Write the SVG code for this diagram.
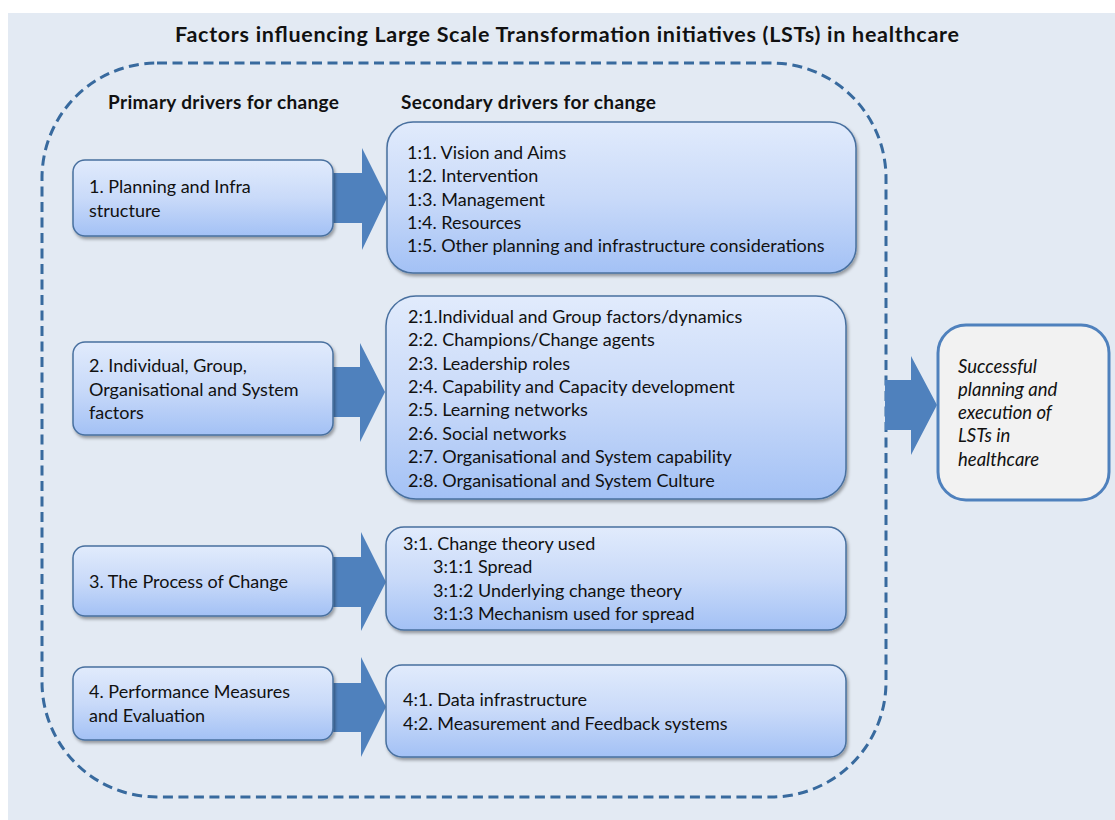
<svg xmlns="http://www.w3.org/2000/svg" width="1115" height="820" viewBox="0 0 1115 820">
  <defs>
    <linearGradient id="boxFill" x1="0" y1="0" x2="0" y2="1">
      <stop offset="0" stop-color="#E1EBFC"/>
      <stop offset="0.5" stop-color="#C9DAF9"/>
      <stop offset="1" stop-color="#A3C1F5"/>
    </linearGradient>
    <filter id="shadow" x="-10%" y="-10%" width="120%" height="130%">
      <feDropShadow dx="1.5" dy="2.5" stdDeviation="1.8" flood-color="#000" flood-opacity="0.35"/>
    </filter>
    <style>
      .panel { fill: #E3EAF3; }
      .frame { fill: none; stroke: #386A9E; stroke-width: 3; stroke-dasharray: 10 5.5; }
      .box { fill: url(#boxFill); stroke: #48709F; stroke-width: 1.5; filter: url(#shadow); }
      .goal { fill: #F2F2F2; stroke: #4F81BD; stroke-width: 3; }
      .arrow { fill: #4F81BD; }
      text { font-family: Lato, "Open Sans", "Liberation Sans", sans-serif; fill: #111; }
      .title { font-size: 21.5px; font-weight: bold; }
      .head { font-size: 19px; font-weight: bold; }
      .t { font-size: 18px; }
      .it { font-size: 18.5px; font-style: italic; }
    </style>
  </defs>

  <!-- background panel -->
  <rect class="panel" x="8" y="13" width="1107" height="807"/>

  <!-- title and column headings -->
  <text class="title" x="175" y="42" textLength="784" lengthAdjust="spacing">Factors influencing Large Scale Transformation initiatives (LSTs) in healthcare</text>
  <text class="head" x="108" y="109" textLength="231" lengthAdjust="spacing">Primary drivers for change</text>
  <text class="head" x="401" y="109" textLength="255" lengthAdjust="spacing">Secondary drivers for change</text>

  <!-- dashed boundary around the drivers -->
  <rect class="frame" x="42" y="63" width="844" height="734" rx="115" ry="115"/>

  <!-- block arrows linking drivers -->
  <g id="connectors">
    <polygon class="arrow" points="333,173 362,173 362,148 387,198 362,250 362,223 333,223"/>
    <polygon class="arrow" points="333,367 360,367 360,343 385,392 360,442 360,417 333,417"/>
    <polygon class="arrow" points="333,557 361,557 361,532 386,582 361,631 361,607 333,607"/>
    <polygon class="arrow" points="333,683 361,683 361,657 386,707 361,757 361,732 333,732"/>
    <polygon class="arrow" points="885,380 911,380 911,356 937,405 911,455 911,430 885,430"/>
  </g>

  <!-- primary drivers -->
  <g id="primary-1">
    <rect class="box" x="73" y="160" width="260" height="76" rx="12"/>
    <text class="t" x="89" y="193">1. Planning and Infra</text>
    <text class="t" x="89" y="217">structure</text>
  </g>
  <g id="primary-2">
    <rect class="box" x="73" y="342" width="260" height="93" rx="12"/>
    <text class="t" x="89" y="372">2. Individual, Group,</text>
    <text class="t" x="89" y="396">Organisational and System</text>
    <text class="t" x="89" y="419">factors</text>
  </g>
  <g id="primary-3">
    <rect class="box" x="73" y="546" width="260" height="70" rx="12"/>
    <text class="t" x="89" y="588">3. The Process of Change</text>
  </g>
  <g id="primary-4">
    <rect class="box" x="73" y="667" width="260" height="73" rx="12"/>
    <text class="t" x="89" y="698">4. Performance Measures</text>
    <text class="t" x="89" y="722">and Evaluation</text>
  </g>

  <!-- secondary drivers -->
  <g id="secondary-1">
    <rect class="box" x="387" y="122" width="469" height="151" rx="26"/>
    <text class="t" x="407" y="159">1:1. Vision and Aims</text>
    <text class="t" x="407" y="182">1:2. Intervention</text>
    <text class="t" x="407" y="206">1:3. Management</text>
    <text class="t" x="407" y="229">1:4. Resources</text>
    <text class="t" x="407" y="252">1:5. Other planning and infrastructure considerations</text>
  </g>
  <g id="secondary-2">
    <rect class="box" x="386" y="296" width="460" height="203" rx="30"/>
    <text class="t" x="408" y="323">2:1.Individual and Group factors/dynamics</text>
    <text class="t" x="408" y="346">2:2. Champions/Change agents</text>
    <text class="t" x="408" y="370">2:3. Leadership roles</text>
    <text class="t" x="408" y="393">2:4. Capability and Capacity development</text>
    <text class="t" x="408" y="416">2:5. Learning networks</text>
    <text class="t" x="408" y="440">2:6. Social networks</text>
    <text class="t" x="408" y="463">2:7. Organisational and System capability</text>
    <text class="t" x="408" y="487">2:8. Organisational and System Culture</text>
  </g>
  <g id="secondary-3">
    <rect class="box" x="386" y="527" width="460" height="103" rx="18"/>
    <text class="t" x="403" y="550">3:1. Change theory used</text>
    <text class="t" x="433" y="573">3:1:1 Spread</text>
    <text class="t" x="433" y="597">3:1:2 Underlying change theory</text>
    <text class="t" x="433" y="620">3:1:3 Mechanism used for spread</text>
  </g>
  <g id="secondary-4">
    <rect class="box" x="386" y="665" width="460" height="92" rx="16"/>
    <text class="t" x="403" y="706">4:1. Data infrastructure</text>
    <text class="t" x="403" y="730">4:2. Measurement and Feedback systems</text>
  </g>

  <!-- outcome -->
  <g id="outcome">
    <rect class="goal" x="938" y="325" width="171" height="175" rx="28"/>
    <text class="it" x="958" y="373">Successful</text>
    <text class="it" x="958" y="396">planning and</text>
    <text class="it" x="958" y="419">execution of</text>
    <text class="it" x="958" y="442">LSTs in</text>
    <text class="it" x="958" y="466">healthcare</text>
  </g>
</svg>
